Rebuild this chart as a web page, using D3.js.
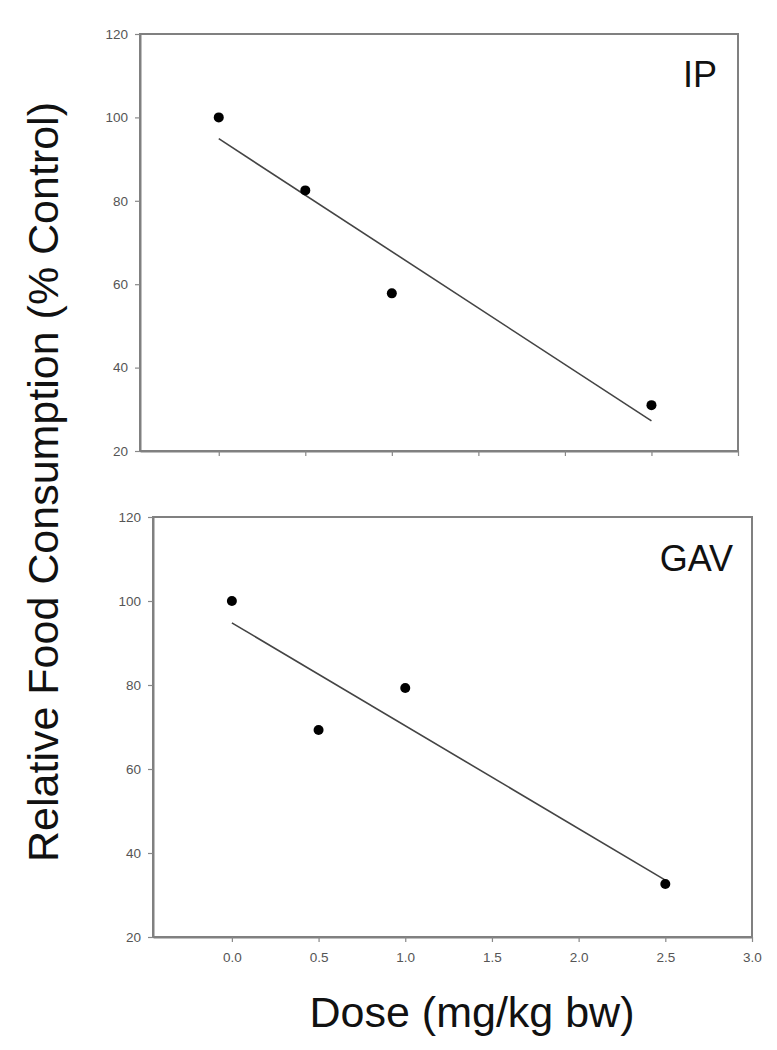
<!DOCTYPE html>
<html>
<head>
<meta charset="utf-8">
<script src="https://cdn.jsdelivr.net/npm/d3@7"></script>
<style>
  body { margin: 0; background: #fff; }
  text { font-family: Arial, "Liberation Sans", sans-serif; }
</style>
</head>
<body>
<svg id="chart" width="777" height="1050"></svg>
<script>
// doses given (mg/kg bw)
var doses = [0, 0.5, 1.0, 2.5];
// relative food consumption, % of control
var ipValues = [100, 82.5, 57.8, 31.0];
var gavValues = [100, 69.3, 79.3, 32.6];
var panelNames = ["IP", "GAV"];
var yTicks = [20, 40, 60, 80, 100, 120];
var xTicks = [0, 0.5, 1.0, 1.5, 2.0, 2.5, 3.0];

var svg = d3.select("#chart");

// simple least squares fit, drawn over the dose range
function linFit(xs, ys) {
  var mx = d3.mean(xs), my = d3.mean(ys);
  var sxy = d3.sum(xs, function(x, i){ return (x - mx) * (ys[i] - my); });
  var sxx = d3.sum(xs, function(x){ return (x - mx) * (x - mx); });
  var b = sxy / sxx;
  return { a: my - b * mx, b: b };
}

var panels = [
  { name: panelNames[0], values: ipValues, left: 140, right: 738, top: 34, bottom: 451, xLabels: false, nameRight: 717, nameY: 87 },
  { name: panelNames[1], values: gavValues, left: 153, right: 752, top: 517, bottom: 937, xLabels: true, nameRight: 733, nameY: 571 }
];

panels.forEach(function(p){
  var x = d3.scaleLinear().domain([-0.455, 3.0]).range([p.left, p.right]);
  var y = d3.scaleLinear().domain([20, 120]).range([p.bottom, p.top]);
  var g = svg.append("g");

  // frame
  g.append("rect")
    .attr("x", p.left).attr("y", p.top)
    .attr("width", p.right - p.left).attr("height", p.bottom - p.top)
    .attr("fill", "none").attr("stroke", "#808080").attr("stroke-width", 2);

  var yAxis = g.append("g")
    .attr("transform", "translate(" + p.left + ",0)")
    .call(d3.axisLeft(y).tickValues(yTicks).tickSize(5).tickSizeOuter(0).tickPadding(7).tickFormat(d3.format("d")));

  var xAxis = g.append("g")
    .attr("transform", "translate(0," + p.bottom + ")")
    .call(d3.axisBottom(x).tickValues(xTicks).tickSize(5).tickSizeOuter(0).tickPadding(10)
      .tickFormat(p.xLabels ? d3.format(".1f") : function(){ return ""; }));

  [yAxis, xAxis].forEach(function(ax){
    ax.select(".domain").attr("stroke", "#808080").attr("stroke-width", 2);
    ax.selectAll(".tick line").attr("stroke", "#888").attr("stroke-width", 1.2);
    ax.selectAll(".tick text").attr("fill", "#555").style("font-size", "13.5px");
  });

  // regression line
  var fit = linFit(doses, p.values);
  var ends = [d3.min(doses), d3.max(doses)];
  g.append("line")
    .attr("x1", x(ends[0])).attr("y1", y(fit.a + fit.b * ends[0]))
    .attr("x2", x(ends[1])).attr("y2", y(fit.a + fit.b * ends[1]))
    .attr("stroke", "#444").attr("stroke-width", 1.6);

  g.selectAll("circle.pt")
    .data(doses)
    .enter().append("circle")
    .attr("class", "pt")
    .attr("cx", function(d){ return x(d); })
    .attr("cy", function(d, i){ return y(p.values[i]); })
    .attr("r", 5)
    .attr("fill", "#000");

  g.append("text")
    .attr("x", p.nameRight).attr("y", p.nameY)
    .attr("text-anchor", "end")
    .style("font-size", "36px")
    .attr("fill", "#111")
    .text(p.name);
});

svg.append("text")
  .attr("transform", "translate(58,482) rotate(-90)")
  .attr("text-anchor", "middle")
  .style("font-size", "43px")
  .attr("fill", "#111")
  .text("Relative Food Consumption (% Control)");

svg.append("text")
  .attr("x", 472).attr("y", 1027)
  .attr("text-anchor", "middle")
  .style("font-size", "43px")
  .attr("fill", "#111")
  .text("Dose (mg/kg bw)");
</script>
</body>
</html>
